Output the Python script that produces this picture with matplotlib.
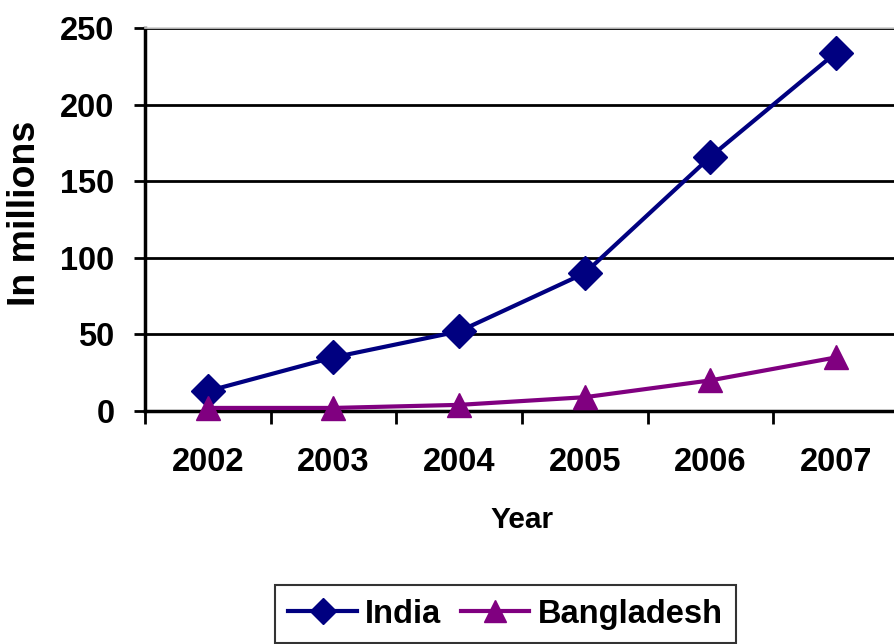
import matplotlib
matplotlib.use("Agg")
import matplotlib.pyplot as plt
import numpy as np

years = ["2002", "2003", "2004", "2005", "2006", "2007"]
india = [13, 35, 52, 90, 166, 234]
bangladesh = [2, 2, 4, 9, 20, 35]
y_ticks = [0, 50, 100, 150, 200, 250]

plt.rcParams['font.family'] = ['Liberation Sans', 'DejaVu Sans']
plt.rcParams['font.weight'] = 'bold'

W, H = 895, 644
fig = plt.figure(figsize=(W / 100, H / 100), dpi=100)
left, right, top, bottom = 145, 899, 28, 411
ax = fig.add_axes([left / W, 1 - bottom / H, (right - left) / W, (bottom - top) / H])

x = np.arange(len(years))
navy = '#000080'
purple = '#800080'
ax.plot(x, india, color=navy, lw=3, marker='D', markersize=17, label='India', zorder=4, clip_on=False)
ax.plot(x, bangladesh, color=purple, lw=3, marker='^', markersize=17, label='Bangladesh', zorder=4, clip_on=False)

ax.set_xlim(-0.5, len(years) - 0.5)
ax.set_ylim(0, 250)
ax.set_yticks(y_ticks)
ax.set_yticklabels([str(v) for v in y_ticks], fontsize=23.5, fontweight='bold')
ax.yaxis.grid(True, color='black', lw=2)
ax.set_axisbelow(True)

# category boundaries as major ticks, labels at centres as minor ticks
ax.set_xticks(np.arange(len(years) + 1) - 0.5)
ax.set_xticklabels([])
ax.set_xticks(x, minor=True)
ax.set_xticklabels(years, minor=True, fontsize=23.5, fontweight='bold')
ax.tick_params(axis='x', which='major', length=9, width=2, direction='out')
ax.tick_params(axis='x', which='minor', length=0, pad=26)
ax.tick_params(axis='y', length=8, width=2, pad=14)

for s in ['left', 'bottom']:
    ax.spines[s].set_linewidth(2.5)
    ax.spines[s].set_color('black')
ax.spines['top'].set_color('#d0d0d0')
ax.spines['top'].set_linewidth(1.2)
ax.spines['right'].set_visible(False)

ax.set_xlabel('Year', fontsize=21.5, fontweight='bold')
ax.xaxis.set_label_coords(0.5, (1 - 520 / H - (1 - bottom / H)) / ((bottom - top) / H))
ax.xaxis.label.set_va('center')
ax.set_ylabel('In millions', fontsize=27, fontweight='bold')
ax.yaxis.set_label_coords((25 - left) / (right - left), ((1 - 213 / H) - (1 - bottom / H)) / ((bottom - top) / H))
ax.yaxis.label.set_va('center')

leg = fig.legend(loc='upper center', bbox_to_anchor=(505.5 / W, 1 - 585 / H), ncol=2,
                 prop={'size': 23.5, 'weight': 'bold'}, frameon=True, fancybox=False,
                 edgecolor='black', handlelength=2.1, handletextpad=0.25, columnspacing=0.6,
                 borderpad=0.42, borderaxespad=0)
leg.get_frame().set_linewidth(1.5)
handles = leg.legend_handles
handles[0].set_markersize(17 * 0.8)
handles[1].set_markersize(17 * 0.95)

fig.savefig('out.png', dpi=100)
